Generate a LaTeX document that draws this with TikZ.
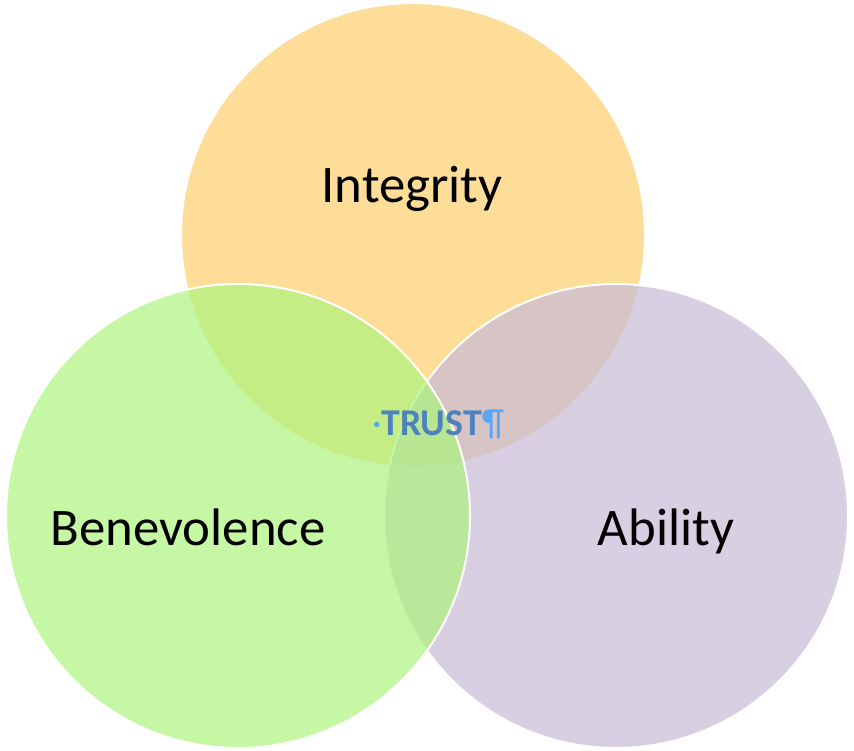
\documentclass[tikz,border=0pt]{standalone}
\usepackage{fontspec}
\setmainfont{Carlito}
\usepackage{tikz}
\definecolor{integrityfill}{RGB}{253,221,152}
\definecolor{abilityfill}{RGB}{199,186,215}
\definecolor{benevolencefill}{RGB}{172,244,125}
\definecolor{trustblue}{RGB}{79,129,189}
\definecolor{markblue}{RGB}{90,165,245}
\tikzset{
  venn/.style={draw=white, line width=2bp},
  label/.style={font=\fontsize{53}{64}\selectfont, anchor=base, inner sep=0pt}
}

\begin{document}
\begin{tikzpicture}[x=1bp, y=-1bp]
  % Fix the page size
  \useasboundingbox (0,0) rectangle (854,751);

  % Draw the three circles
  \filldraw[venn, fill=integrityfill] (413,235) circle [radius=232bp];
  \filldraw[venn, fill=abilityfill, fill opacity=0.7] (616,516) circle [radius=232bp];
  \filldraw[venn, fill=benevolencefill, fill opacity=0.7] (238,516) circle [radius=232bp];

  % Label the circles
  \node[label] (integrity) at (412,202) {Integrity};
  \node[label] (benevolence) at (188,545) {Benevolence};
  \node[label] (ability) at (666,545) {Ability};

  % Label the centre
  \node[anchor=base, inner sep=0pt, font=\fontsize{38}{44}\selectfont] (trust) at (438,435)
    {\textcolor{markblue}{\textperiodcentered}\textcolor{trustblue}{\bfseries TRUST}\textcolor{markblue}{\P}};
\end{tikzpicture}
\end{document}
